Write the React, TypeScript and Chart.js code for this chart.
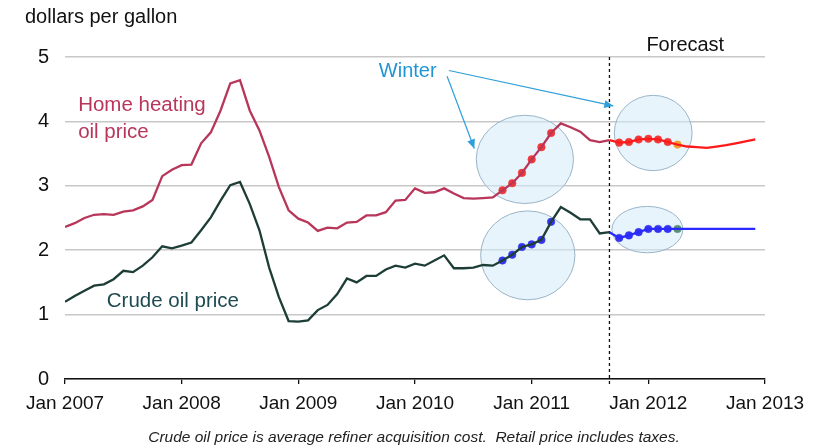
import React, { useEffect, useRef } from 'react';
import { Chart, registerables } from 'chart.js';
Chart.register(...registerables);

// x ticks: one label each January
const xTickLabels = ['Jan 2007', 'Jan 2008', 'Jan 2009', 'Jan 2010', 'Jan 2011', 'Jan 2012', 'Jan 2013'];
const monthsPerTick = 12;
const yTicks = [0, 1, 2, 3, 4, 5];

// monthly values, Jan 2007 .. Dec 2012 (dollars per gallon)
const heatingOil = [
  2.36, 2.42, 2.50, 2.55, 2.56, 2.55, 2.60, 2.62, 2.68, 2.78, 3.15, 3.25,
  3.32, 3.33, 3.66, 3.83, 4.17, 4.59, 4.64, 4.17, 3.86, 3.45, 2.98, 2.62,
  2.49, 2.43, 2.30, 2.35, 2.34, 2.43, 2.44, 2.54, 2.54, 2.59, 2.77, 2.78,
  2.96, 2.89, 2.90, 2.96, 2.88, 2.81, 2.80, 2.81, 2.82, 2.93, 3.04, 3.20,
  3.41, 3.60, 3.82, 3.97, 3.91, 3.84, 3.71, 3.68, 3.71, 3.67, 3.68, 3.72,
  3.73, 3.72, 3.68, 3.64, 3.61, 3.60, 3.59, 3.61, 3.63, 3.66, 3.69, 3.72,
];
const crudeOil = [
  1.20, 1.29, 1.37, 1.45, 1.47, 1.55, 1.68, 1.66, 1.76, 1.89, 2.06, 2.03,
  2.07, 2.12, 2.31, 2.51, 2.77, 3.01, 3.06, 2.72, 2.31, 1.73, 1.27, 0.90,
  0.89, 0.91, 1.07, 1.15, 1.32, 1.56, 1.50, 1.60, 1.60, 1.70, 1.76, 1.73,
  1.79, 1.76, 1.84, 1.92, 1.72, 1.72, 1.73, 1.77, 1.76, 1.84, 1.93, 2.05,
  2.09, 2.16, 2.44, 2.67, 2.58, 2.48, 2.48, 2.26, 2.28, 2.19, 2.23, 2.28,
  2.33, 2.33, 2.33, 2.33, 2.33, 2.33, 2.33, 2.33, 2.33, 2.33, 2.33, 2.33,
];
const forecastStart = 56; // Sep 2011: last historical month
const winterPast = [45, 46, 47, 48, 49, 50]; // Oct 2010 - Mar 2011
const winterForecast = [57, 58, 59, 60, 61, 62, 63]; // Oct 2011 - Apr 2012

// highlight ellipses in data units (month index, dollars)
const ellipseCx = [47.3, 47.6, 60.5, 59.9];
const ellipseCy = [3.41, 1.92, 3.82, 2.32];
const ellipseRx = [5.0, 4.85, 4.0, 3.65];
const ellipseRy = [0.685, 0.69, 0.585, 0.36];

const FONT = '"Liberation Sans", Arial, sans-serif';
const heatColor = '#b8365a';
const crudeColor = '#1d3d37';

const pts = (arr: number[], from: number, to: number) => {
  const out: { x: number; y: number }[] = [];
  for (let i = from; i <= to; i++) out.push({ x: i, y: arr[i] });
  return out;
};
const pick = (arr: number[], idx: number[]) => idx.map((i) => ({ x: i, y: arr[i] }));

const decor = {
  id: 'decor',
  beforeDraw(chart: any) {
    const { ctx } = chart;
    ctx.save();
    ctx.fillStyle = '#fff';
    ctx.fillRect(0, 0, chart.width, chart.height);
    ctx.restore();
  },
  beforeDatasetsDraw(chart: any) {
    const { ctx, scales } = chart;
    const xs = scales.x, ys = scales.y;
    ctx.save();
    for (let i = 0; i < ellipseCx.length; i++) {
      const cx = xs.getPixelForValue(ellipseCx[i]);
      const cy = ys.getPixelForValue(ellipseCy[i]);
      const rx = Math.abs(xs.getPixelForValue(ellipseCx[i] + ellipseRx[i]) - cx);
      const ry = Math.abs(ys.getPixelForValue(ellipseCy[i] + ellipseRy[i]) - cy);
      ctx.beginPath();
      ctx.ellipse(cx, cy, rx, ry, 0, 0, Math.PI * 2);
      ctx.fillStyle = 'rgba(212,235,250,0.55)';
      ctx.fill();
      ctx.strokeStyle = '#9bb5c8';
      ctx.lineWidth = 1;
      ctx.stroke();
    }
    // forecast divider
    const fx = xs.getPixelForValue(forecastStart);
    ctx.beginPath();
    ctx.setLineDash([3, 3]);
    ctx.moveTo(fx, ys.getPixelForValue(5));
    ctx.lineTo(fx, ys.getPixelForValue(0) + 6);
    ctx.strokeStyle = '#111';
    ctx.lineWidth = 1.3;
    ctx.stroke();
    ctx.restore();
  },
  afterDatasetsDraw(chart: any) {
    const { ctx, scales } = chart;
    const xs = scales.x, ys = scales.y;
    const px = (m: number) => xs.getPixelForValue(m);
    const py = (v: number) => ys.getPixelForValue(v);
    ctx.save();
    ctx.textBaseline = 'middle';
    // axis title
    ctx.font = `20px ${FONT}`;
    ctx.fillStyle = '#111';
    ctx.textAlign = 'left';
    ctx.fillText('dollars per gallon', 25, 17);
    // Forecast
    ctx.textAlign = 'center';
    ctx.fillText('Forecast', px(63.8), py(5.18));
    // series labels
    ctx.textAlign = 'left';
    ctx.font = `20.5px ${FONT}`;
    ctx.fillStyle = heatColor;
    ctx.fillText('Home heating', px(1.35), py(4.25));
    ctx.fillText('oil price', px(1.35), py(3.83));
    ctx.fillStyle = '#1e4a52';
    ctx.fillText('Crude oil price', px(4.3), py(1.21));
    // Winter
    ctx.font = `20px ${FONT}`;
    ctx.fillStyle = '#1f95d4';
    ctx.textAlign = 'center';
    ctx.fillText('Winter', px(35.25), py(4.77));
    const arrow = (x1: number, y1: number, x2: number, y2: number) => {
      ctx.beginPath();
      ctx.moveTo(x1, y1);
      ctx.lineTo(x2, y2);
      ctx.strokeStyle = '#2f9fd8';
      ctx.lineWidth = 1.2;
      ctx.stroke();
      const a = Math.atan2(y2 - y1, x2 - x1);
      const L = 9, W = 4;
      ctx.beginPath();
      ctx.moveTo(x2, y2);
      ctx.lineTo(x2 - L * Math.cos(a) + W * Math.sin(a), y2 - L * Math.sin(a) - W * Math.cos(a));
      ctx.lineTo(x2 - L * Math.cos(a) - W * Math.sin(a), y2 - L * Math.sin(a) + W * Math.cos(a));
      ctx.closePath();
      ctx.fillStyle = '#2f9fd8';
      ctx.fill();
    };
    arrow(px(39.3), py(4.7), px(42.1), py(3.58));
    arrow(px(39.5), py(4.79), px(56.4), py(4.24));
    // footnote
    ctx.font = `italic 15.5px ${FONT}`;
    ctx.fillStyle = '#222';
    ctx.textAlign = 'center';
    ctx.fillText('Crude oil price is average refiner acquisition cost.  Retail price includes taxes.', 414, 438);
    ctx.restore();
  },
};

export default function App() {
  const ref = useRef<HTMLCanvasElement>(null);
  useEffect(() => {
    if (!ref.current) return;
    const last = heatingOil.length - 1;
    const lineDs = (data: any[], color: string) => ({
      type: 'line' as const,
      data,
      borderColor: color,
      backgroundColor: color,
      borderWidth: 2.3,
      pointRadius: 0,
      tension: 0,
      fill: false,
    });
    const markerDs = (data: any[], colors: string | string[]) => ({
      type: 'scatter' as const,
      data,
      showLine: false,
      pointRadius: 3.8,
      pointBackgroundColor: colors,
      pointBorderColor: colors,
      pointBorderWidth: 0.5,
    });
    const lastColorH = winterForecast.map((_, i) => (i === winterForecast.length - 1 ? '#f0a030' : '#ee3838'));
    const lastColorC = winterForecast.map((_, i) => (i === winterForecast.length - 1 ? '#5a8f70' : '#3434ee'));
    const chart = new Chart(ref.current, {
      type: 'line',
      data: {
        datasets: [
          lineDs(pts(heatingOil, 0, forecastStart), heatColor),
          lineDs(pts(heatingOil, forecastStart, last), '#ff1a1a'),
          lineDs(pts(crudeOil, 0, forecastStart), crudeColor),
          lineDs(pts(crudeOil, forecastStart, last), '#2a2aff'),
          markerDs(pick(heatingOil, winterPast), '#ee3838'),
          markerDs(pick(heatingOil, winterForecast), lastColorH),
          markerDs(pick(crudeOil, winterPast), '#3434ee'),
          markerDs(pick(crudeOil, winterForecast), lastColorC),
        ] as any,
      },
      options: {
        responsive: false,
        animation: false,
        layout: { padding: { top: 57, right: 54, left: 0, bottom: 0 } },
        plugins: { legend: { display: false }, tooltip: { enabled: false } },
        scales: {
          x: {
            type: 'linear',
            min: 0,
            max: (xTickLabels.length - 1) * monthsPerTick,
            afterFit: (s: any) => { s.height = 69; },
            afterBuildTicks: (s: any) => {
              s.ticks = xTickLabels.map((_, i) => ({ value: i * monthsPerTick }));
            },
            ticks: {
              autoSkip: false,
              maxRotation: 0,
              padding: 8,
              color: '#111',
              font: { family: FONT, size: 19 },
              callback: (v: any) => xTickLabels[Math.round(Number(v) / monthsPerTick)],
            },
            grid: { display: true, drawOnChartArea: false, drawTicks: true, tickLength: 5, color: '#111', lineWidth: 1.3 },
            border: { display: true, color: '#111', width: 1.5 },
          },
          y: {
            min: yTicks[0],
            max: yTicks[yTicks.length - 1],
            afterFit: (s: any) => { s.width = 65; },
            afterBuildTicks: (s: any) => {
              s.ticks = yTicks.map((v) => ({ value: v }));
            },
            ticks: {
              padding: 16,
              color: '#111',
              font: { family: FONT, size: 20 },
              callback: (v: any) => String(v),
            },
            grid: { color: '#c8c8c8', lineWidth: 1.6, drawTicks: false },
            border: { display: false },
          },
        },
      } as any,
      plugins: [decor],
    });
    return () => chart.destroy();
  }, []);
  return (
    <div style={{ position: 'fixed', left: 0, top: 0, width: 819, height: 448, background: '#fff' }}>
      <canvas ref={ref} width={819} height={448} style={{ width: 819, height: 448 }} />
    </div>
  );
}
